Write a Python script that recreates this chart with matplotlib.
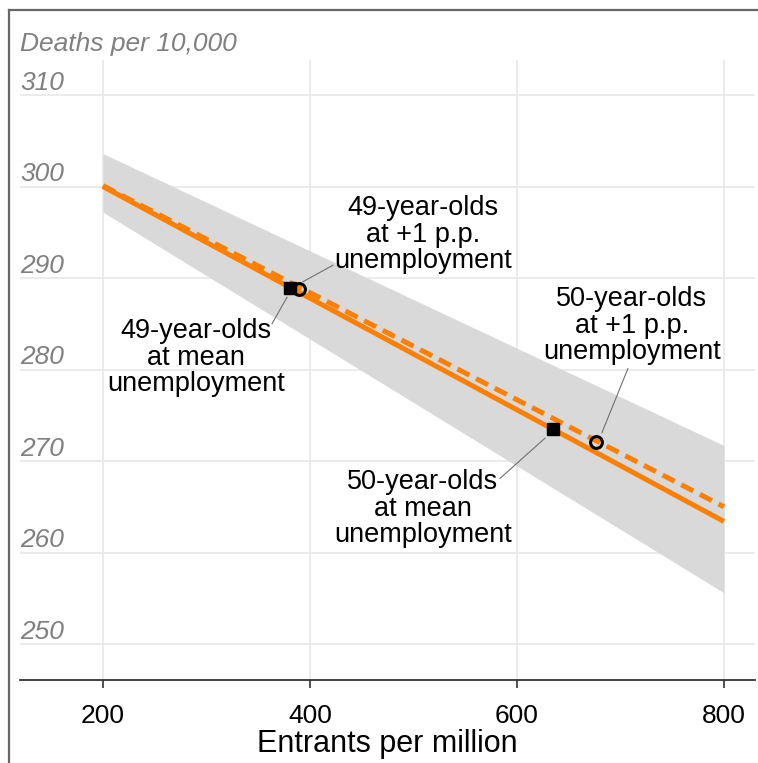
import matplotlib.pyplot as plt
import matplotlib.transforms as mtransforms
from matplotlib.lines import Line2D

plt.rcParams['font.family'] = ['Liberation Sans', 'DejaVu Sans']

# fitted deaths per 10,000 across the entrants range
entrants = [200, 800]
fit_mean = [300.0, 263.4]
fit_plus1 = [300.1, 265.0]
ci_low = [297.2, 255.6]
ci_high = [303.6, 271.7]

# marked cohorts: (entrants, deaths)
cohort_x_mean = [380.7, 634.8]
cohort_y_mean = [288.9, 273.5]
cohort_x_plus1 = [389.4, 676.3]
cohort_y_plus1 = [288.8, 272.1]

xticks = [200, 400, 600, 800]
yticks = [250, 260, 270, 280, 290, 300, 310]

labels = ["49-year-olds\nat +1 p.p.\nunemployment",
          "49-year-olds\nat mean\nunemployment",
          "50-year-olds\nat +1 p.p.\nunemployment",
          "50-year-olds\nat mean\nunemployment"]
label_xy = [(509, 294.75), (290, 281.3), (711, 284.8), (509, 264.8)]
leader_from = [(393.2, 289.6), (377.8, 287.9), (682.1, 273.1), (627.1, 272.5)]
leader_to = [(422.2, 291.4), (363.3, 285.0), (707.2, 280.1), (583.6, 268.1)]

orange = '#ff7f00'

fig = plt.figure(figsize=(7.58, 7.63), dpi=100)
ax = fig.add_axes([20 / 758, 83 / 763, 735 / 758, 620 / 763])

ax.fill_between(entrants, ci_low, ci_high, color='#d9d9d9', lw=0, zorder=1)
ax.plot(entrants, fit_mean, color=orange, lw=3.6, solid_capstyle='butt', zorder=2)
ax.plot(entrants, fit_plus1, color=orange, lw=3.6, dashes=(2.7, 1.5), zorder=2)

ax.plot(cohort_x_mean, cohort_y_mean, 's', color='black', ms=8.5, zorder=4)
ax.plot(cohort_x_plus1, cohort_y_plus1, 'o', mfc='none', mec='black', mew=2.2,
        ms=8.5, zorder=5)

for (x0, y0), (x1, y1) in zip(leader_from, leader_to):
    ax.plot([x0, x1], [y0, y1], color='#707070', lw=0.8, zorder=3)

for txt, (x, y) in zip(labels, label_xy):
    ax.text(x, y, txt, ha='center', va='center', fontsize=19.5,
            linespacing=1.03, color='black', zorder=6)

ax.set_xlim(119.8, 830)
ax.set_ylim(246.07, 313.83)
ax.set_xticks(xticks)
ax.set_yticks(yticks)
ax.set_yticklabels([])
ax.tick_params(axis='y', length=0)
ax.tick_params(axis='x', length=6, width=1.2, color='#333333', labelsize=19,
               pad=11)
ax.grid(True, color='#e8e8e8', lw=1.2, zorder=0)
ax.set_axisbelow(True)
for side in ['top', 'right', 'left']:
    ax.spines[side].set_visible(False)
ax.spines['bottom'].set_color('#333333')
ax.spines['bottom'].set_linewidth(1.3)

ax.set_xlabel('Entrants per million', fontsize=22, labelpad=1)

# y labels sit above their gridlines, flush with the left edge
trans = mtransforms.blended_transform_factory(ax.transAxes, ax.transData)
for v in yticks:
    ax.text(0, v + 0.05, str(v), transform=trans, ha='left', va='bottom',
            fontsize=19, style='italic', color='#808080')
ax.text(20 / 758, 1 - 51 / 763, 'Deaths per 10,000', transform=fig.transFigure,
        ha='left', va='baseline', fontsize=19, style='italic', color='#808080')

# frame along the top and left
fig.add_artist(Line2D([8.5 / 758, 8.5 / 758], [0, 1 - 9.5 / 763],
                      transform=fig.transFigure, color='#666666', lw=1.6))
fig.add_artist(Line2D([8.5 / 758, 1], [1 - 9.5 / 763, 1 - 9.5 / 763],
                      transform=fig.transFigure, color='#666666', lw=1.6))

fig.savefig('out.png', dpi=100)
